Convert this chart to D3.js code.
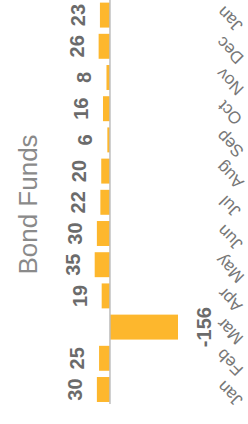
<!DOCTYPE html>
<html>
<head>
<meta charset="utf-8">
<script src="https://cdn.jsdelivr.net/npm/d3@7"></script>
<style>
  body { margin: 0; background: #fff; }
  svg { display: block; font-family: "Liberation Sans", Arial, sans-serif; }
</style>
</head>
<body>
<script>
// Monthly flows, chart drawn upright then turned a quarter turn
const months = ["Jan", "Feb", "Mar", "Apr", "May", "Jun", "Jul", "Aug", "Sep", "Oct", "Nov", "Dec", "Jan"];
const values = [30, 25, -156, 19, 35, 30, 22, 20, 6, 16, 8, 26, 23];
const title = "Bond Funds";

const W = 248;
const H = 424;
// upright frame is H wide, W tall
const w = H;
const h = W;

const svg = d3.select("body")
  .append("svg")
  .attr("width", W)
  .attr("height", H);

const g = svg.append("g")
  .attr("transform", "translate(0," + H + ") rotate(-90)");

const x = d3.scaleBand()
  .domain(d3.range(values.length))
  .range([18.9, 424.5])
  .paddingInner(0.2)
  .paddingOuter(0.1);

const y = d3.scaleLinear()
  .domain([d3.min(values), d3.max(values)])
  .range([178, 94.7]);

g.selectAll("rect.bar")
  .data(values)
  .enter()
  .append("rect")
  .attr("class", "bar")
  .attr("x", (d, i) => x(i))
  .attr("y", (d) => d >= 0 ? y(d) : y(0))
  .attr("width", x.bandwidth())
  .attr("height", (d) => Math.abs(y(d) - y(0)))
  .attr("fill", "#FDB72D");

// zero line
g.append("line")
  .attr("x1", 20)
  .attr("x2", w)
  .attr("y1", y(0))
  .attr("y2", y(0))
  .attr("stroke", "#bdbdbd")
  .attr("stroke-width", 1.5);

// value labels
g.selectAll("text.val")
  .data(values)
  .enter()
  .append("text")
  .attr("class", "val")
  .text((d) => d)
  .attr("x", (d, i) => x(i) + x.bandwidth() / 2)
  .attr("y", (d) => d >= 0 ? y(d) - 15 : y(d) + 33)
  .attr("text-anchor", "middle")
  .attr("font-size", 20)
  .attr("font-weight", "bold")
  .attr("fill", "#6b6b6b");

// month labels
const xAxis = d3.axisBottom(x)
  .tickSize(0)
  .tickFormat((i) => months[i]);

const ax = g.append("g")
  .attr("transform", "translate(0,234)")
  .call(xAxis);

ax.select(".domain").remove();
ax.selectAll("text")
  .attr("y", 0)
  .attr("dy", 0)
  .attr("text-anchor", "middle")
  .attr("transform", "rotate(-45)")
  .style("font-size", "17px")
  .attr("font-family", "\"Liberation Sans\", Arial, sans-serif")
  .attr("fill", "#777");

g.append("text")
  .text(title)
  .attr("x", 219.5)
  .attr("y", 37)
  .attr("text-anchor", "middle")
  .attr("font-size", 26)
  .attr("fill", "#8a8a8a");
</script>
</body>
</html>
